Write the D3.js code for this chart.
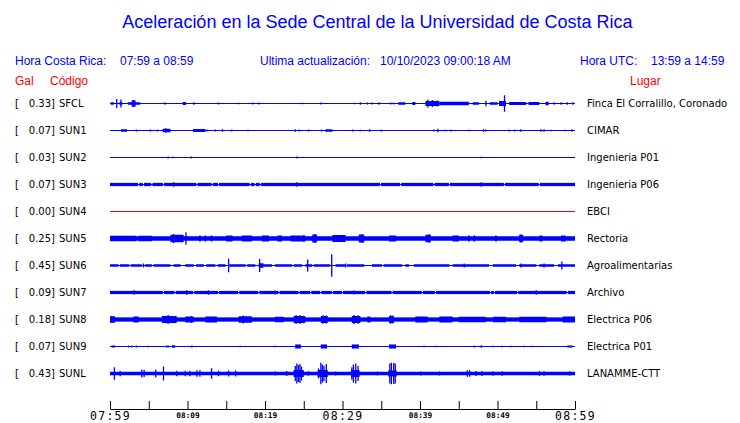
<!DOCTYPE html>
<html><head><meta charset="utf-8">
<script src="https://cdn.jsdelivr.net/npm/d3@7"></script>
<style>
html,body{margin:0;padding:0;background:#fff;}
svg{display:block;}
</style></head>
<body><svg id="c" width="740" height="423"></svg>
<script>
// ---------- DATA ----------
const codes  = ["SFCL","SUN1","SUN2","SUN3","SUN4","SUN5","SUN6","SUN7","SUN8","SUN9","SUNL"];
const gals   = ["0.33","0.07","0.03","0.07","0.00","0.25","0.45","0.09","0.18","0.07","0.43"];
const places = ["Finca El Corralillo, Coronado","CIMAR","Ingenieria P01","Ingenieria P06","EBCI",
                "Rectoria","Agroalimentarias","Archivo","Electrica P06","Electrica P01","LANAMME-CTT"];
const traceColors = ["blue","blue","blue","blue","red","blue","blue","blue","blue","blue","blue"];

// time axis (minutes after 07:59)
const tickMinutes = [0,5,10,15,20,25,30,35,40,45,50,55,60];
const tickLabels  = ["07:59","","08:09","","08:19","","08:29","","08:39","","08:49","","08:59"];
const majorLabels = ["07:59","08:29","08:59"];

// noise blocks [tStart, tEnd, gal]  and spikes [t, gal]
const noiseSFCL = [[0.1,0.5,0.05],[1.2,1.6,0.05],[2.3,3.9,0.05],[2.8,3.3,0.13],[9.4,9.8,0.06],[37.2,38.1,0.05],
  [39,39.4,0.06],[40.7,42.5,0.1],[42.5,46.3,0.07],[46.8,47.6,0.05],[49,50,0.05],[50.2,51.1,0.1],
  [51.5,53.7,0.06],[54,55.4,0.06],[56.2,56.6,0.07]];
const spikesSFCL = [[0.86,0.18],[1.4,0.16],[3.0,0.14],[7.1,0.05],[10.8,0.05],[14,0.04],[16.6,0.03],[18.4,0.04],
  [19.2,0.04],[24.8,0.03],[27.2,0.04],[31.5,0.03],[32.3,0.05],[33.2,0.04],[33.8,0.04],[34.7,0.05],[36.2,0.04],
  [36.6,0.04],[41,0.16],[41.6,0.14],[42.2,0.12],[48.5,0.11],[50.9,0.33],[57.3,0.05],[58.2,0.05],[59,0.05],[59.7,0.05]];

const noiseSUN1 = [[1.4,2.2,0.05],[6.8,7.8,0.07],[10.7,12.3,0.06],[27.8,28.7,0.05],[33.4,33.6,0.05]];
const spikesSUN1 = [[3.4,0.04],[5.2,0.04],[6.1,0.04],[7.2,0.09],[12.5,0.04],[13.6,0.04],[14.5,0.05],[15.7,0.04],
  [17.8,0.03],[23.9,0.05],[24.4,0.04],[25.6,0.04],[27.3,0.04],[31.3,0.04],[32.3,0.03],[35,0.04],[41.8,0.04],
  [42.3,0.07],[43.1,0.03],[43.4,0.03],[44,0.04],[46.3,0.03],[48.2,0.05],[48.5,0.04],[51.5,0.04],[52.2,0.04],
  [53,0.05],[55.6,0.05],[56,0.05],[56.9,0.03],[58.7,0.03],[59.6,0.05]];

const noiseSUN2 = [];
const spikesSUN2 = [[7.5,0.04],[8.1,0.03],[10.5,0.04],[24.1,0.04],[47.9,0.03]];

const noiseSUN3 = [[0,60,0.065]];
const spikesSUN3 = [[8.2,0.09],[24.1,0.09],[47.9,0.09]];
const gapsSUN3 = [3.7,4.3,5.4,6.9,11.2,13.2,14,18.1,18.75,19.4,34.9,37.5,41.8,43.8,50.9,55.4];

const noiseSUN4 = [];
const spikesSUN4 = [];

const noiseSUN5 = [[0,60,0.09],[0,3.4,0.11],[3.7,5.4,0.11],[7.8,9.5,0.15],[11.5,11.7,0.12],[12.2,12.4,0.12],
  [13,13.2,0.12],[15,15.8,0.12],[17,18.3,0.12],[19.6,20.5,0.12],[21.6,22.2,0.12],[23.3,25.2,0.12],
  [26.1,26.7,0.16],[28.7,30.4,0.14],[32.1,32.8,0.16],[36,36.9,0.12],[40.7,41.4,0.15],[44.2,45,0.12],
  [49.7,49.9,0.12],[52.8,53.3,0.15],[55.4,55.8,0.12],[58.2,58.8,0.12]];
const spikesSUN5 = [[9.8,0.25],[8.2,0.18],[25,0.13],[26.4,0.17],[32.5,0.17],[41.2,0.17],[46.3,0.13],[47,0.13],[53,0.16]];

const noiseSUN6 = [[0,1.1,0.05],[1.3,2.5,0.05],[2.7,4.1,0.05],[4.5,5.4,0.05],[5.6,7.8,0.05],[8.2,9.1,0.05],
  [9.7,10.8,0.05],[11.1,12.1,0.05],[12.4,13.6,0.05],[13.9,14.9,0.05],[15.4,17.5,0.05],[17.7,18.75,0.05],
  [19.2,20.9,0.05],[19.2,19.8,0.09],[21.3,23.5,0.05],[23.7,24.8,0.05],[25.2,26.1,0.05],[26.3,28.4,0.05],
  [29.1,30.4,0.05],[30.6,32.8,0.05],[33.8,35.1,0.05],[35.3,37.7,0.05],[38.1,38.6,0.05],[39.2,43.8,0.05],
  [44.2,48.9,0.05],[49.4,52.4,0.05],[52.8,55,0.05],[55.4,57.3,0.05],[57.8,60,0.05]];
const spikesSUN6 = [[4.3,0.08],[15.3,0.27],[19.3,0.26],[25.5,0.24],[28.6,0.45],[30.4,0.08],[45.7,0.08],
  [53,0.08],[56,0.08],[58.3,0.16]];

const noiseSUN7 = [[0,60,0.065]];
const spikesSUN7 = [[3.1,0.09],[9.9,0.09],[12.7,0.09],[21.3,0.08],[31.5,0.08],[55,0.09]];
const gapsSUN7 = [6.9,8.4,10.8,14,16.6,19.2,21.8,24.4,25.9,27.2,28.7,30,33,36.4,40.3,42,49.1,49.6,52.6,59];

const noiseSUN8 = [[0,60,0.085],[0,0.65,0.13],[3,3.7,0.12],[6.7,8.6,0.14],[9.7,10.8,0.12],[12.3,13.8,0.12],
  [16.6,18.3,0.13],[21.3,22.4,0.11],[23.7,25.2,0.14],[27.2,28.1,0.14],[31.2,32.3,0.14],[33.2,33.6,0.12],
  [36,36.6,0.14],[39.4,41,0.12],[42.5,44.2,0.12],[45,48.5,0.11],[49.4,51.1,0.11],[52.8,56.3,0.11],[58.4,60,0.12]];
const spikesSUN8 = [[0.2,0.13],[7.5,0.18],[10.5,0.14],[17.2,0.16],[24,0.18],[24.5,0.18],[27.5,0.17],
  [27.9,0.16],[31.5,0.18],[32,0.17],[36.2,0.17],[36.5,0.16]];

const noiseSUN9 = [[0.2,0.65,0.04],[8,8.4,0.05],[10.5,10.6,0.05],[23.9,24.6,0.08],[27.2,28,0.08],
  [31.2,32.1,0.08],[36,36.9,0.08],[59,59.7,0.04]];
const spikesSUN9 = [[2.4,0.04],[2.8,0.04],[3.4,0.04],[4.9,0.03],[7.3,0.04],[7.5,0.04],[16.8,0.03],[21.3,0.03],
  [24,0.07],[24.5,0.07],[27.3,0.07],[27.8,0.07],[31.3,0.07],[32,0.07],[36.1,0.07],[36.8,0.07],[40.5,0.03],
  [42,0.03],[47,0.04],[47.9,0.05],[49.4,0.03],[50.6,0.03],[51.7,0.03],[53.4,0.03],[54.5,0.03]];

const noiseSUNL = [[0,60,0.07],[23.7,25,0.14],[26.8,28.1,0.14],[31.1,32.2,0.14],[35.9,37,0.12]];
const spikesSUNL = [[0.56,0.25],[1.3,0.11],[4.1,0.16],[4.4,0.14],[5.9,0.16],[6.9,0.28],[8.6,0.11],[9.7,0.11],
  [10.3,0.11],[11.2,0.13],[11.6,0.13],[13.1,0.21],[14,0.11],[15.3,0.12],[16.2,0.12],[21.3,0.08],[22.8,0.1],
  [23.9,0.3],[24.1,0.4],[24.3,0.34],[24.5,0.38],[24.7,0.28],[25.6,0.09],[26.9,0.2],[27.2,0.43],[27.4,0.36],
  [27.6,0.3],[27.9,0.38],[29.1,0.08],[31.2,0.25],[31.4,0.36],[31.7,0.4],[32.0,0.3],[34.5,0.08],[36.1,0.4],
  [36.3,0.43],[36.6,0.42],[36.8,0.4],[40.1,0.08],[42.5,0.08],[46.1,0.13],[46.4,0.13],[47.2,0.1],[48,0.1],
  [49.4,0.09],[50.6,0.09],[55.4,0.09],[56,0.09],[59.3,0.09]];

// ---------- BUILD ----------
const noiseAll  = [noiseSFCL,noiseSUN1,noiseSUN2,noiseSUN3,noiseSUN4,noiseSUN5,noiseSUN6,noiseSUN7,noiseSUN8,noiseSUN9,noiseSUNL];
const spikesAll = [spikesSFCL,spikesSUN1,spikesSUN2,spikesSUN3,spikesSUN4,spikesSUN5,spikesSUN6,spikesSUN7,spikesSUN8,spikesSUN9,spikesSUNL];
const gapsAll   = [[],[],[],gapsSUN3,[],[],[],gapsSUN7,[],[],[]];

const svg = d3.select("#c");
const x = d3.scaleLinear().domain([0,60]).range([110,575]);
const y = d3.scalePoint().domain(codes).range([103.5,373.5]);
const amp = d3.scaleLinear().domain([-0.5,0.5]).range([12.5,-12.5]);
const blue = "#0000ff", red = "#ff0000";
const sans = "'Liberation Sans', Arial, Helvetica, sans-serif";
const dv = "'DejaVu Sans', sans-serif";

// header
svg.append("text").attr("x",377.5).attr("y",28).attr("text-anchor","middle")
  .attr("font-family",sans).attr("font-size",18).attr("fill",blue)
  .text("Aceleración en la Sede Central de la Universidad de Costa Rica");
const hdr = [["Hora Costa Rica:",15],["07:59 a 08:59",120],["Ultima actualización:",260],
             ["10/10/2023 09:00:18 AM",380],["Hora UTC:",580],["13:59 a 14:59",651]];
svg.selectAll("text.hdr").data(hdr).join("text").attr("class","hdr")
  .attr("x",d=>d[1]).attr("y",65).attr("font-family",sans).attr("font-size",12).attr("fill",blue).text(d=>d[0]);
const hdr2 = [["Gal",15],["Código",50],["Lugar",630]];
svg.selectAll("text.hdr2").data(hdr2).join("text").attr("class","hdr2")
  .attr("x",d=>d[1]).attr("y",85).attr("font-family",sans).attr("font-size",12).attr("fill",red).text(d=>d[0]);

// rows
codes.forEach((code,i)=>{
  const cy = y(code);
  const col = traceColors[i]==="red" ? red : blue;
  const g = svg.append("g");
  const ty = cy + 3.1;
  // labels
  g.append("text").attr("x",15).attr("y",ty).attr("font-family",dv).attr("font-size",10).attr("fill","#000").text("[");
  g.append("text").attr("x",55).attr("y",ty).attr("text-anchor","end").attr("font-family",dv).attr("font-size",10).attr("fill","#000").text(gals[i]+"]");
  g.append("text").attr("x",59).attr("y",ty).attr("font-family",dv).attr("font-size",10).attr("fill","#000").text(code);
  g.append("text").attr("x",587).attr("y",ty).attr("font-family",dv).attr("font-size",10).attr("fill","#000").text(places[i]);
  // noise blocks
  g.selectAll("rect.n").data(noiseAll[i]).join("rect").attr("class","n")
    .attr("x",d=>x(d[0])).attr("width",d=>Math.max(1,x(d[1])-x(d[0])))
    .attr("y",d=>cy+amp(d[2])).attr("height",d=>amp(-d[2])-amp(d[2])).attr("fill",col);
  // gaps (quieter instants)
  g.selectAll("rect.gp").data(gapsAll[i]).join("rect").attr("class","gp")
    .attr("x",d=>x(d)-0.6).attr("width",1.2)
    .attr("y",cy+amp(0.1)).attr("height",amp(-0.1)-amp(0.1)).attr("fill","#fff");
  // spikes
  g.selectAll("rect.s").data(spikesAll[i]).join("rect").attr("class","s")
    .attr("x",d=>x(d[0])-0.6).attr("width",1.3)
    .attr("y",d=>cy+amp(d[1])).attr("height",d=>amp(-d[1])-amp(d[1])).attr("fill",col);
  // baseline
  g.append("rect").attr("x",x(0)).attr("width",x(60)-x(0)).attr("y",cy-0.5).attr("height",1).attr("fill",col);
});

// axis
const ax = d3.axisBottom(x).tickValues(tickMinutes).tickSize(-8).tickSizeOuter(0)
  .tickFormat((d,i)=>tickLabels[i]);
const axg = svg.append("g").attr("transform","translate(0,409)").call(ax);
axg.select(".domain").attr("stroke","#000");
axg.selectAll(".tick line").attr("stroke","#000");
axg.selectAll(".tick text").each(function(d,i){
  const t = d3.select(this);
  const lab = tickLabels[i];
  if (majorLabels.includes(lab)) {
    t.attr("font-family","'DejaVu Sans Mono', monospace").attr("font-size",11.5)
     .attr("letter-spacing",1.3).attr("y",10.5).attr("dy",null).attr("fill","#000");
  } else {
    t.attr("font-family","'DejaVu Sans Mono', monospace").attr("font-size",7.8)
     .attr("font-weight","bold").attr("y",8.7).attr("dy",null).attr("fill","#000");
  }
});
</script></body></html>
